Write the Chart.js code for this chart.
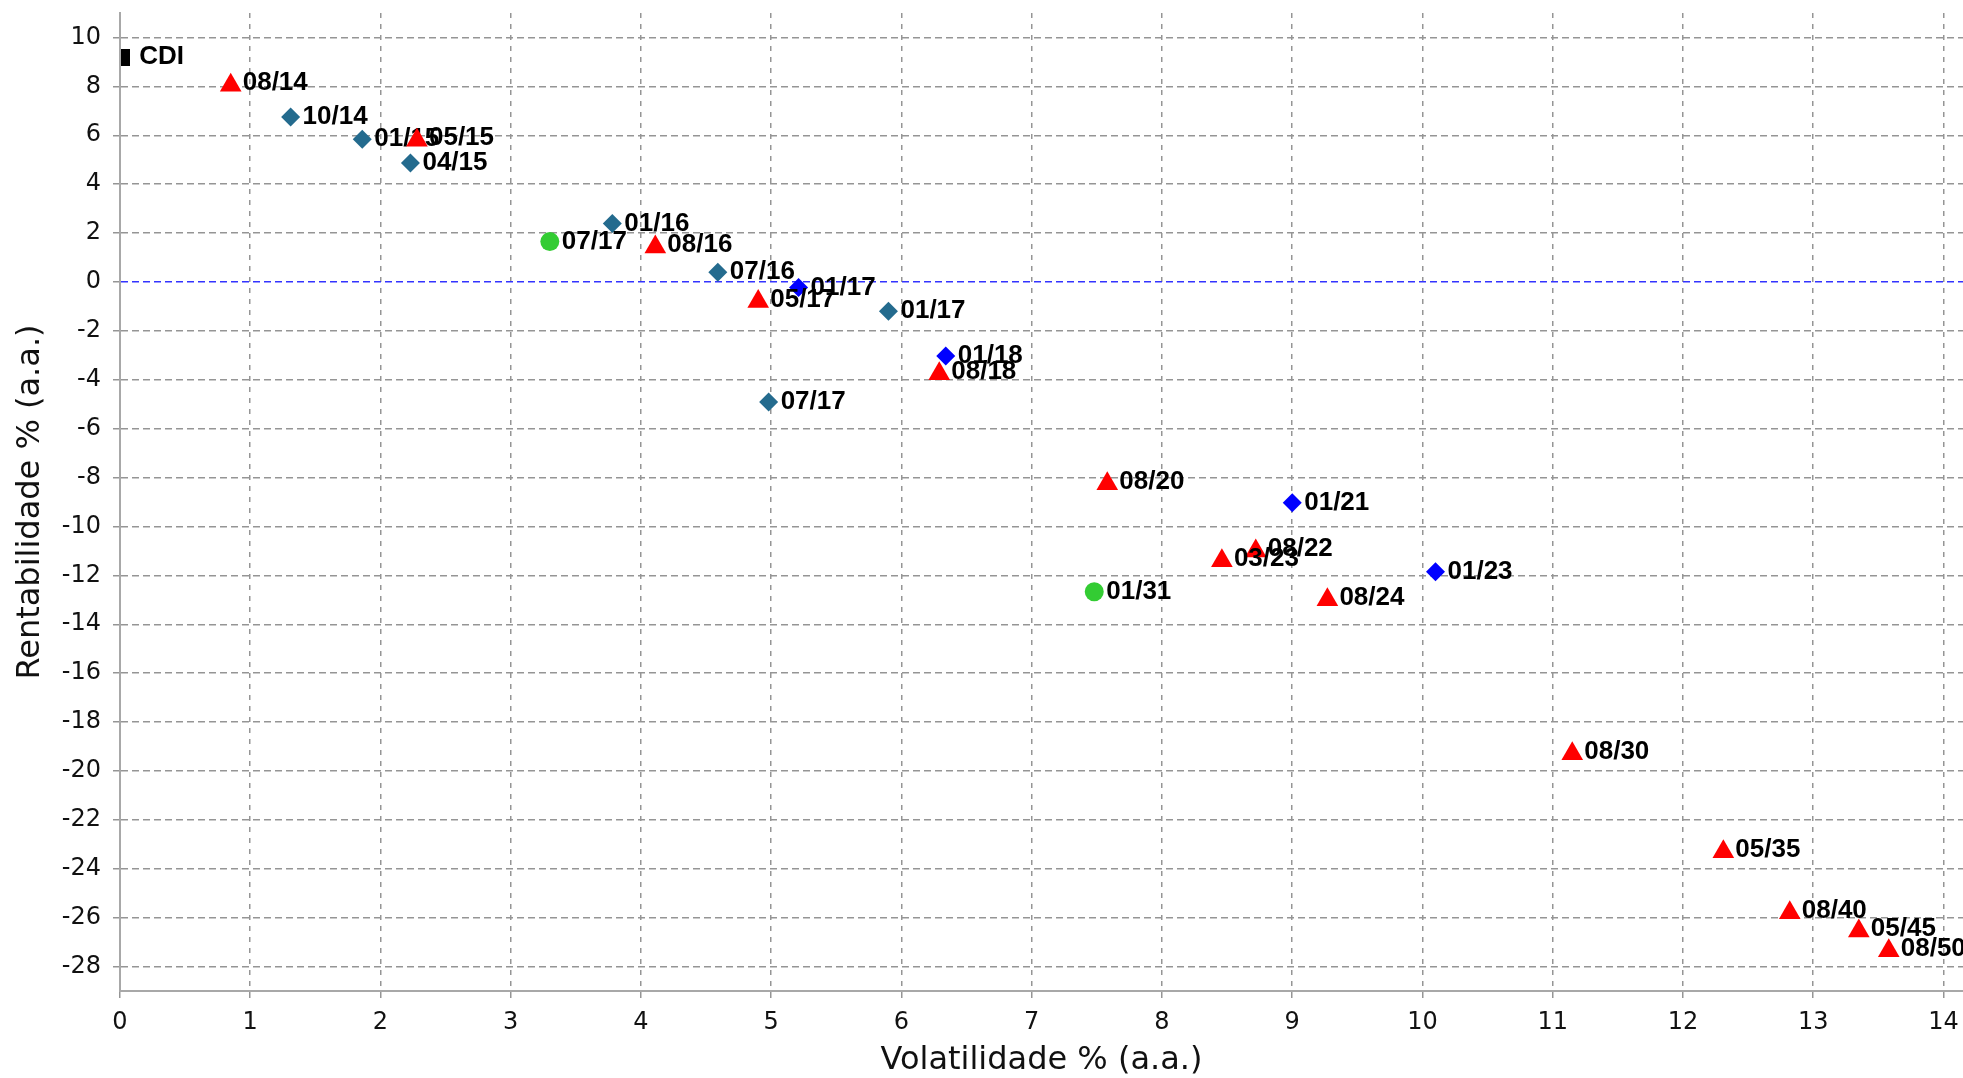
<!DOCTYPE html>
<html lang="pt-BR">
<head>
  <meta charset="UTF-8">
  <title>Volatilidade x Rentabilidade</title>
  <script src="https://cdn.jsdelivr.net/npm/chart.js"></script>
  <style>
    html, body { margin: 0; padding: 0; background: #fff; overflow: hidden; }
    #wrap { width: 1963px; height: 1078px; }
    #riskChart { display: block; }
  </style>
</head>
<body>
  <div id="wrap"><canvas id="riskChart" width="1963" height="1078"></canvas></div>

  <script>
    // tick labels
    const xTicks = [0, 1, 2, 3, 4, 5, 6, 7, 8, 9, 10, 11, 12, 13, 14];
    const yTicks = [10, 8, 6, 4, 2, 0, -2, -4, -6, -8, -10, -12, -14, -16, -18, -20, -22, -24, -26, -28];

    // CDI
    const cdiNames = ['CDI'];
    const cdiVol = [0.04];
    const cdiRet = [9.2];

    // red triangles
    const triNames = ['08/14', '05/15', '08/16', '05/17', '08/18', '08/20', '08/22', '03/23', '08/24', '08/30', '05/35', '08/40', '05/45', '08/50'];
    const triVol = [0.85, 2.28, 4.11, 4.90, 6.29, 7.58, 8.72, 8.46, 9.27, 11.15, 12.31, 12.82, 13.35, 13.58];
    const triRet = [8.05, 5.8, 1.43, -0.8, -3.75, -8.25, -11.0, -11.4, -13.0, -19.3, -23.3, -25.8, -26.55, -27.35];

    // blue diamonds
    const blueNames = ['01/17', '01/18', '01/21', '01/23'];
    const blueVol = [5.21, 6.34, 9.00, 10.10];
    const blueRet = [-0.23, -3.03, -9.03, -11.85];

    // green circles
    const greenNames = ['07/17', '01/31'];
    const greenVol = [3.30, 7.48];
    const greenRet = [1.65, -12.67];

    // teal diamonds
    const tealNames = ['10/14', '01/15', '04/15', '01/16', '07/16', '01/17', '07/17'];
    const tealVol = [1.31, 1.86, 2.23, 3.78, 4.59, 5.90, 4.98];
    const tealRet = [6.75, 5.84, 4.86, 2.39, 0.40, -1.20, -4.91];

    function toPoints(vol, ret) {
      return vol.map((v, i) => ({ x: v, y: ret[i] }));
    }

    // tall black bar used as the CDI marker
    const cdiMarker = document.createElement('canvas');
    cdiMarker.width = 9;
    cdiMarker.height = 17;
    const mctx = cdiMarker.getContext('2d');
    mctx.fillStyle = '#000';
    mctx.fillRect(0, 0, 9, 17);

    // draws the bold name next to each point, right after its dataset
    const pointNames = {
      id: 'pointNames',
      afterDatasetDraw(chart, args) {
        const ds = chart.data.datasets[args.index];
        const ctx = chart.ctx;
        ctx.save();
        ctx.font = 'bold 26px "Liberation Sans", Arial, sans-serif';
        ctx.fillStyle = '#000';
        ctx.textAlign = 'left';
        ctx.textBaseline = 'middle';
        args.meta.data.forEach((el, i) => {
          ctx.fillText(ds.names[i], el.x + ds.nameDx, el.y + ds.nameDy);
        });
        ctx.restore();
      }
    };

    const gridGrey = '#959595';

    new Chart(document.getElementById('riskChart'), {
      type: 'scatter',
      data: {
        datasets: [
          {
            label: 'CDI',
            data: toPoints(cdiVol, cdiRet),
            names: cdiNames, nameDx: 14, nameDy: 0,
            pointStyle: cdiMarker,
            backgroundColor: '#000'
          },
          {
            label: 'Triângulos',
            data: toPoints(triVol, triRet),
            names: triNames, nameDx: 12, nameDy: -2,
            pointStyle: 'triangle',
            pointRadius: 12.5,
            backgroundColor: '#ff0000',
            borderWidth: 0
          },
          {
            label: 'Losangos azuis',
            data: toPoints(blueVol, blueRet),
            names: blueNames, nameDx: 12, nameDy: 0,
            pointStyle: 'rectRot',
            pointRadius: 9.5,
            backgroundColor: '#0000ff',
            borderWidth: 0
          },
          {
            label: 'Círculos',
            data: toPoints(greenVol, greenRet),
            names: greenNames, nameDx: 12, nameDy: 0,
            pointStyle: 'circle',
            pointRadius: 9.5,
            backgroundColor: '#33cc33',
            borderWidth: 0
          },
          {
            label: 'Losangos',
            data: toPoints(tealVol, tealRet),
            names: tealNames, nameDx: 12, nameDy: 0,
            pointStyle: 'rectRot',
            pointRadius: 9.5,
            backgroundColor: '#246b8e',
            borderWidth: 0
          }
        ]
      },
      options: {
        responsive: false,
        animation: false,
        devicePixelRatio: 1,
        layout: { autoPadding: false, padding: { top: 13, right: 0, bottom: 0, left: 0 } },
        plugins: {
          legend: { display: false },
          tooltip: { enabled: false }
        },
        scales: {
          x: {
            type: 'linear',
            min: 0,
            max: 14.15,
            afterBuildTicks: axis => { axis.ticks = xTicks.map(v => ({ value: v })); },
            afterFit: axis => {
              axis.height = 87;
              axis.paddingLeft = 0;
              axis.paddingRight = 0;
            },
            ticks: {
              color: '#111',
              font: { family: '"DejaVu Sans"', size: 24 },
              padding: 10,
              maxRotation: 0
            },
            grid: {
              color: gridGrey,
              lineWidth: 1.5,
              tickLength: 7,
              tickColor: gridGrey,
              tickBorderDash: []
            },
            border: { display: true, color: '#a8a8a8', width: 2, dash: [5, 6] },
            title: {
              display: true,
              text: 'Volatilidade % (a.a.)',
              color: '#111',
              font: { family: '"DejaVu Sans"', size: 32, lineHeight: 1.0 },
              padding: { top: 0, bottom: 1 }
            }
          },
          y: {
            type: 'linear',
            min: -29,
            max: 11,
            afterBuildTicks: axis => { axis.ticks = yTicks.map(v => ({ value: v })); },
            afterFit: axis => {
              axis.width = 120;
              axis.paddingTop = 0;
              axis.paddingBottom = 0;
            },
            ticks: {
              color: '#111',
              font: { family: '"DejaVu Sans"', size: 24 },
              padding: 12
            },
            grid: {
              color: c => (c.tick && c.tick.value === 0 ? '#3333ff' : gridGrey),
              lineWidth: 1.5,
              tickLength: 7,
              tickColor: gridGrey,
              tickBorderDash: []
            },
            border: { display: true, color: '#a8a8a8', width: 2, dash: [7, 4] },
            title: {
              display: true,
              text: 'Rentabilidade % (a.a.)',
              color: '#111',
              font: { family: '"DejaVu Sans"', size: 32, lineHeight: 1.2 },
              padding: { top: 11, bottom: 0 }
            }
          }
        }
      },
      plugins: [pointNames]
    });
  </script>
</body>
</html>
